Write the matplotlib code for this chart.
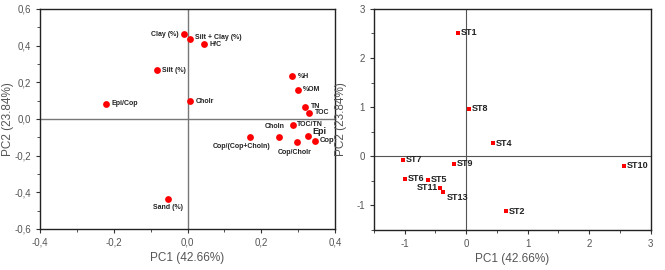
import numpy as np
import matplotlib.pyplot as plt
from matplotlib.ticker import FuncFormatter, MultipleLocator

plt.rcParams['font.family'] = ['Liberation Sans', 'DejaVu Sans']

# loadings (left panel)
var_names = ['Clay (%)', 'Silt + Clay (%)', 'H/C', 'Silt (%)', '%H', '%OM',
             'Epi/Cop', 'Cholr', 'TN', 'TOC', 'TOC/TN', 'Choln', 'Epi',
             'Cop/(Cop+Choln)', 'Cop/Cholr', 'Cop', 'Sand (%)']
var_pc1 = [-0.009, 0.006, 0.045, -0.084, 0.283, 0.298, -0.22, 0.006, 0.319,
           0.329, 0.285, 0.248, 0.326, 0.168, 0.297, 0.346, -0.052]
var_pc2 = [0.461, 0.437, 0.406, 0.265, 0.234, 0.159, 0.082, 0.097, 0.066,
           0.033, -0.033, -0.1, -0.095, -0.1, -0.125, -0.12, -0.435]

# scores (right panel)
st_names = ['ST1', 'ST8', 'ST4', 'ST7', 'ST9', 'ST10', 'ST6', 'ST5',
            'ST11', 'ST13', 'ST2']
st_pc1 = [-0.124, 0.043, 0.443, -1.027, -0.195, 2.56, -0.984, -0.622,
          -0.416, -0.373, 0.654]
st_pc2 = [2.517, 0.973, 0.264, -0.068, -0.155, -0.19, -0.453, -0.48,
          -0.642, -0.716, -1.12]

xlab = 'PC1 (42.66%)'
ylab = 'PC2 (23.84%)'

# label placement: (dx, dy in points, ha, va, size)
var_offsets = {
    'Clay (%)': (-4, 0, 'right', 'center', 5),
    'Silt + Clay (%)': (4, 1, 'left', 'center', 5),
    'Choln': (-3, 5, 'center', 'bottom', 5),
    'Epi': (3, 3.5, 'left', 'center', 6.5),
    'Cop/(Cop+Choln)': (-6, -4, 'center', 'top', 5),
    'Cop/Cholr': (-2, -5, 'center', 'top', 5),
    'Sand (%)': (0, -4, 'center', 'top', 5),
    'TOC/TN': (3, 0, 'left', 'center', 5),
    'Cop': (3, 0, 'left', 'center', 5.5),
}
st_offsets = {
    'ST11': (-2, 0, 'right', 'center'),
    'ST13': (3, -4, 'left', 'center'),
}

comma = FuncFormatter(lambda v, p: ('%.1f' % v).replace('.', ','))
intfmt = FuncFormatter(lambda v, p: '%d' % round(v))

fig = plt.figure(figsize=(6.65, 2.7), dpi=100)
ax1 = fig.add_axes([0.060, 0.152, 0.444, 0.815])
ax2 = fig.add_axes([0.562, 0.148, 0.4165, 0.819])

gray = '#555555'

# left panel
ax1.axhline(0, color='#777777', lw=1, zorder=1)
ax1.axvline(0, color='#777777', lw=1, zorder=1)
ax1.scatter(var_pc1, var_pc2, s=24, color='#ff0000', zorder=3, linewidths=0)
for name, x, y in zip(var_names, var_pc1, var_pc2):
    dx, dy, ha, va, sz = var_offsets.get(name, (4, 0, 'left', 'center', 5))
    ax1.annotate(name, (x, y), xytext=(dx, dy), textcoords='offset points',
                 ha=ha, va=va, fontsize=sz, fontweight='bold', color='#222222')
ax1.set_xlim(-0.4, 0.4)
ax1.set_ylim(-0.6, 0.6)
ax1.xaxis.set_major_locator(MultipleLocator(0.2))
ax1.xaxis.set_minor_locator(MultipleLocator(0.1))
ax1.yaxis.set_major_locator(MultipleLocator(0.2))
ax1.yaxis.set_minor_locator(MultipleLocator(0.1))
ax1.xaxis.set_major_formatter(comma)
ax1.yaxis.set_major_formatter(comma)

# right panel
ax2.axhline(0, color='#555555', lw=0.8, zorder=1)
ax2.axvline(0, color='#555555', lw=0.8, zorder=1)
ax2.scatter(st_pc1, st_pc2, s=5, marker='s', color='#ff0000', zorder=3,
            linewidths=0)
for name, x, y in zip(st_names, st_pc1, st_pc2):
    dx, dy, ha, va = st_offsets.get(name, (2, 0, 'left', 'center'))
    ax2.annotate(name, (x, y), xytext=(dx, dy), textcoords='offset points',
                 ha=ha, va=va, fontsize=6.5, fontweight='bold', color='#222222')
ax2.set_xlim(-1.5, 3)
ax2.set_ylim(-1.5, 3)
ax2.xaxis.set_major_locator(MultipleLocator(1))
ax2.xaxis.set_minor_locator(MultipleLocator(0.5))
ax2.yaxis.set_major_locator(MultipleLocator(1))
ax2.yaxis.set_minor_locator(MultipleLocator(0.5))
ax2.xaxis.set_major_formatter(intfmt)
ax2.yaxis.set_major_formatter(intfmt)

for ax in (ax1, ax2):
    ax.set_xlabel(xlab, fontsize=8.5, color=gray, labelpad=3)
    ax.set_ylabel(ylab, fontsize=8.5, color=gray)
    ax.tick_params(which='both', direction='out', labelsize=7, colors='#333333',
                   labelcolor=gray)
    ax.tick_params(which='major', length=3)
    ax.tick_params(which='minor', length=2)
    for s in ax.spines.values():
        s.set_linewidth(1.0)
        s.set_color('#222222')

ax1.yaxis.set_label_coords(-0.088, 0.5)
ax2.yaxis.set_label_coords(-0.097, 0.5)

fig.savefig('out.png', dpi=100)
